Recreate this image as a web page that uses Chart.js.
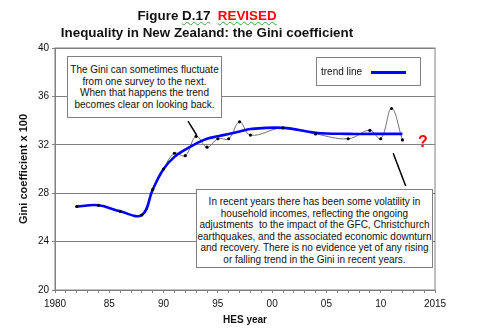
<!DOCTYPE html>
<html>
<head>
<meta charset="utf-8">
<script src="https://cdn.jsdelivr.net/npm/chart.js@4.4.1/dist/chart.umd.min.js"></script>
<style>
  body { margin: 0; background: #fff; font-family: "Liberation Sans", Arial, sans-serif; }
  #wrap { position: relative; width: 485px; height: 336px; overflow: hidden; }
  #grafico { position: absolute; left: 0; top: 0; }
  .titulo { position: absolute; left: 0; width: 414px; text-align: center; font-weight: bold; font-size: 13.4px; color: #111; white-space: nowrap; }
  .vermelho { color: #f00; }
  .caixa { position: absolute; box-sizing: border-box; background: #fff; border: 1px solid #808080;
           font-size: 10px; line-height: 11.5px; text-align: center; color: #111; white-space: nowrap; }
  #legenda { position: absolute; box-sizing: border-box; left: 316px; top: 57px; width: 105px; height: 29px;
             border: 1px solid #808080; background: #fff; font-size: 10px; color: #111; }
  #legenda span.txt { position: absolute; left: 4px; top: 8px; }
  #legenda span.linha { position: absolute; left: 54px; top: 13px; width: 35px; height: 3px; background: #0000ff; }
  #interrogacao { position: absolute; left: 418px; top: 133px; font-size: 16px; font-weight: bold; color: #f00; }
</style>
</head>
<body>
<div id="wrap">
  <canvas id="grafico" width="485" height="336"></canvas>

  <div class="titulo" style="top:8px">Figure <span style="text-decoration: underline wavy #3a3; text-decoration-thickness:1px">D.17</span>&nbsp; <span class="vermelho" style="text-decoration: underline wavy #3a3; text-decoration-thickness:1px">REVISED</span></div>
  <div class="titulo" style="top:25px">Inequality in New Zealand: the Gini coefficient</div>

  <div class="caixa" style="left:67px; top:56px; width:155px; height:62px; padding-top:7px">
    The Gini can sometimes fluctuate<br>
    from one survey to the next.<br>
    When that happens the trend<br>
    becomes clear on looking back.
  </div>

  <div class="caixa" style="left:196px; top:189px; width:237px; height:79px; padding-top:6px">
    In recent years there has been some volatility in<br>
    household incomes, reflecting the ongoing<br>
    adjustments &nbsp;to the impact of the GFC, Christchurch<br>
    earthquakes, and the associated economic downturn<br>
    and recovery. There is no evidence yet of any rising<br>
    or falling trend in the Gini in recent years.
  </div>

  <div id="legenda"><span class="txt">trend line</span><span class="linha"></span></div>
  <div id="interrogacao">?</div>
</div>

<script>
// ── Dados ────────────────────────────────────────────────────────────────────
const ANOS = [1982, 1984, 1986, 1988, 1989, 1990, 1991, 1992, 1993, 1994, 1995,
              1996, 1997, 1998, 2001, 2004, 2007, 2009, 2010, 2011, 2012];

const GINI = [26.9, 27.0, 26.5, 26.2, 28.3, 30.0, 31.3, 31.1, 32.7, 31.8, 32.5,
              32.5, 33.9, 32.8, 33.4, 32.9, 32.5, 33.2, 32.5, 35.0, 32.4];

const TENDENCIA = [26.9, 27.0, 26.5, 26.2, 28.3, 30.0, 31.0, 31.6, 32.1, 32.5, 32.7,
                   32.9, 33.1, 33.3, 33.4, 33.0, 32.9, 32.9, 32.9, 32.9, 32.9];

const Y_TICKS = [20, 24, 28, 32, 36, 40];

// setas das caixas de texto (em coordenadas de dados: ano, gini)
const SETAS = [
  [[1992.25, 33.95], [1993.05, 32.8]],
  [[2011.15, 31.3], [2012.3, 28.6]]
];

const CINZA = '#808080';
const FONTE = { family: '"Liberation Sans", Arial, sans-serif', size: 10 };

const pontos = (ys) => ANOS.map((a, i) => ({ x: a, y: ys[i] }));

// ── Plugin: moldura e setas ──────────────────────────────────────────────────
const moldura = {
  id: 'moldura',
  afterDatasetsDraw(chart) {
    const { ctx, chartArea: a, scales: { x, y } } = chart;
    ctx.save();
    ctx.strokeStyle = CINZA;
    ctx.lineWidth = 1;
    ctx.strokeRect(a.left, a.top, a.right - a.left, a.bottom - a.top);
    ctx.strokeStyle = '#000';
    ctx.lineWidth = 1.5;
    SETAS.forEach(([p, q]) => {
      ctx.beginPath();
      ctx.moveTo(x.getPixelForValue(p[0]), y.getPixelForValue(p[1]));
      ctx.lineTo(x.getPixelForValue(q[0]), y.getPixelForValue(q[1]));
      ctx.stroke();
    });
    ctx.restore();
  }
};

new Chart(document.getElementById('grafico'), {
  type: 'line',
  data: {
    datasets: [
      {
        label: 'pontos',
        data: pontos(GINI),
        showLine: false,
        pointRadius: 1.6,
        pointBackgroundColor: '#000',
        pointBorderColor: '#000',
        pointBorderWidth: 0,
        order: 0
      },
      {
        label: 'trend line',
        data: pontos(TENDENCIA),
        borderColor: '#0000ff',
        borderWidth: 2.6,
        pointRadius: 0,
        tension: 0.4,
        order: 1
      },
      {
        label: 'Gini',
        data: pontos(GINI),
        borderColor: '#6e6e6e',
        borderWidth: 1,
        pointRadius: 0,
        tension: 0.4,
        order: 2
      }
    ]
  },
  options: {
    responsive: false,
    animation: false,
    devicePixelRatio: 1,
    layout: { padding: { left: 0, top: 48, right: 50, bottom: 10 } },
    plugins: {
      legend: { display: false },
      tooltip: { enabled: false }
    },
    scales: {
      x: {
        type: 'linear',
        min: 1980,
        max: 2015,
        afterBuildTicks: (s) => { s.ticks = []; for (let v = 1980; v <= 2015; v++) s.ticks.push({ value: v }); },
        afterFit: (s) => { s.height = 36; },
        ticks: {
          autoSkip: false,
          maxRotation: 0,
          color: '#111',
          font: FONTE,
          padding: 5,
          callback: (v) => {
            if (v % 5 !== 0) return '';
            if (v === 1980 || v === 2015) return String(v);
            return String(v % 100).padStart(2, '0');
          }
        },
        grid: { drawOnChartArea: false, color: CINZA, tickLength: 3 },
        border: { color: CINZA },
        title: {
          display: true,
          text: 'HES year',
          color: '#111',
          font: { family: FONTE.family, size: 10, weight: 'bold' },
          padding: { top: 0, bottom: 0 }
        }
      },
      y: {
        min: 20,
        max: 40,
        afterBuildTicks: (s) => { s.ticks = Y_TICKS.map(v => ({ value: v })); },
        afterFit: (s) => { s.width = 55; },
        ticks: { color: '#111', font: FONTE, padding: 3 },
        grid: { color: CINZA, tickLength: 3 },
        border: { color: CINZA },
        title: {
          display: true,
          text: 'Gini coefficient x 100',
          color: '#111',
          font: { family: FONTE.family, size: 11, weight: 'bold' },
          padding: { top: 17, bottom: 4 }
        }
      }
    }
  },
  plugins: [moldura]
});
</script>
</body>
</html>
